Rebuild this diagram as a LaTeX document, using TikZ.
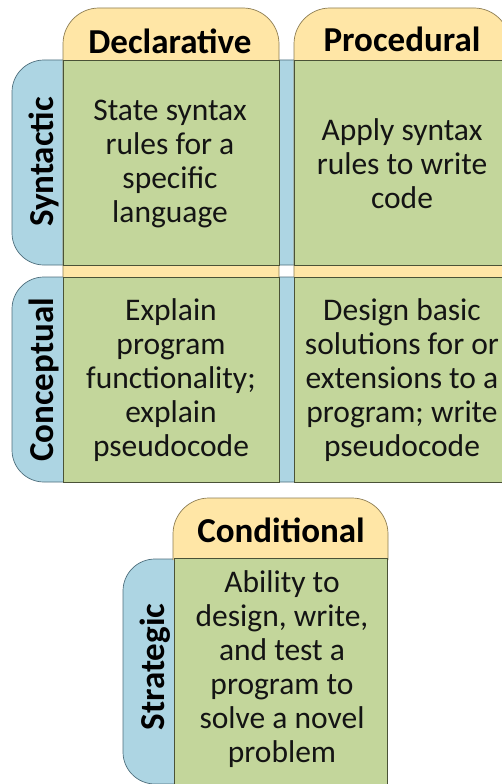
\documentclass[tikz,border=0pt]{standalone}
\usepackage{fontspec}
\setmainfont{Carlito}
\definecolor{tabyellow}{HTML}{FFE6A6}
\definecolor{tabblue}{HTML}{ADD5E3}
\definecolor{cellgreen}{HTML}{C3D69B}
\definecolor{yellowline}{HTML}{8C7C52}
\definecolor{blueline}{HTML}{4E6E7C}
\definecolor{cellline}{HTML}{4A5236}
\newcommand\headfont{\fontsize{35}{40}\selectfont\bfseries}
\newcommand\bodyfont{\fontsize{31.5}{34}\selectfont}
\tikzset{
  coltab/.style={fill=tabyellow, draw=yellowline, line width=0.7pt, rounded corners=36pt},
  rowtab/.style={fill=tabblue, draw=blueline, line width=0.7pt, rounded corners=32pt},
  cell/.style={fill=cellgreen, draw=cellline, line width=0.8pt, inner sep=0pt,
               minimum width=216pt, minimum height=205pt},
  body/.style={font=\bodyfont, align=center, inner sep=0pt, text=black!92},
  head/.style={font=\headfont, inner sep=0pt, text=black},
}
\begin{document}
\begin{tikzpicture}[x=1pt, y=-1pt]
\useasboundingbox (0,0) rectangle (502,784);

% row tabs (blue), rounded on the left
\filldraw[rowtab] (510,60)  -- (12,60)  -- (12,265) -- (510,265);
\filldraw[rowtab] (510,277) -- (12,277) -- (12,482) -- (510,482);
% column tabs (yellow), rounded on top
\filldraw[coltab] (63,277)  -- (63,8)  -- (279,8) -- (279,277);
\filldraw[coltab] (294,277) -- (294,8) -- (510,8) -- (510,277);

% grid cells
\node[cell] (c11) at (171,162.5) {};
\node[cell] (c12) at (402,162.5) {};
\node[cell] (c21) at (171,379.5) {};
\node[cell] (c22) at (402,379.5) {};

\node[body] (t11) at (170,164) {State syntax\\rules for a\\specific\\language};
\node[body] (t12) at (402,164) {Apply syntax\\rules to write\\code};
\node[body] (t21) at (171,380) {Explain\\program\\functionality;\\explain\\pseudocode};
\node[body] (t22) at (402,380) {Design basic\\solutions for or\\extensions to a\\program; write\\pseudocode};

% headers
\node[head, anchor=base] (hdecl) at (170,53) {Declarative};
\node[head, anchor=base] (hproc) at (402,52) {Procedural};
\node[head, anchor=base, rotate=90] (hsyn) at (53,162) {Syntactic};
\node[head, anchor=base, rotate=90] (hcon) at (53,380) {Conceptual};

% conditional block
\filldraw[rowtab] (176,559) -- (123,559) -- (123,784) -- (176,784);
\filldraw[coltab] (173,560) -- (173,498) -- (388,498) -- (388,560);
\node[cell, minimum width=213pt, minimum height=234pt] (c3) at (280.5,675) {};
\node[body] (t3) at (282,669) {Ability to\\design, write,\\and test a\\program to\\solve a novel\\problem};
\node[head, anchor=base] (hcond) at (281,542) {Conditional};
\node[head, anchor=base, rotate=90] (hstr) at (164,667) {Strategic};
\end{tikzpicture}
\end{document}
